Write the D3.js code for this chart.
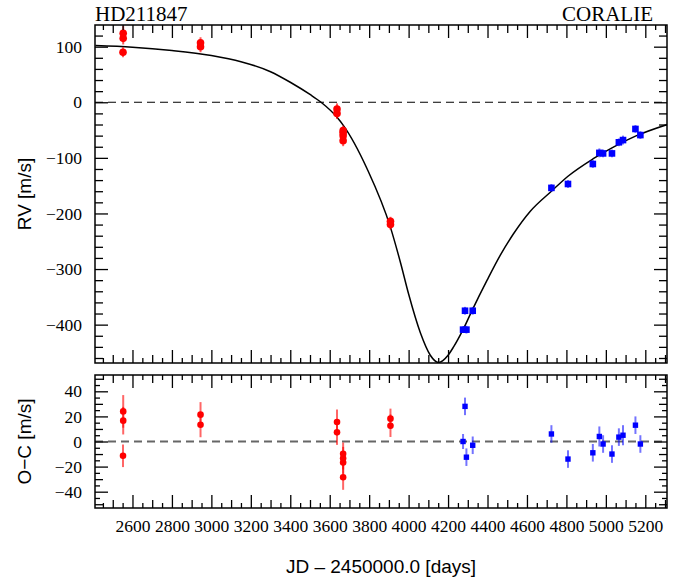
<!DOCTYPE html>
<html>
<head>
<meta charset="utf-8">
<script src="https://cdn.jsdelivr.net/npm/d3@7"></script>
<style>
  html, body { margin: 0; padding: 0; background: #fff; }
  svg { display: block; }
  .serif-labels text { font-family: 'Liberation Serif', 'Times New Roman', serif; }
</style>
</head>
<body>
<svg id="chart" width="692" height="581"></svg>
<script>
// ---- Data -------------------------------------------------------------
// Red points (first instrument epoch set): JD-2450000, RV [m/s], O-C [m/s], error [m/s]
const redDays = [2553, 2553, 2552, 2945, 2945, 3637, 3637, 3668, 3668, 3668, 3668, 3908, 3908];
const redRV   = [124, 115, 90, 107, 100, -12, -20, -51, -55, -60, -69, -214, -220];
const redOC   = [24, 16.6, -11.4, 21.4, 13.4, 15.5, 7.3, -9.8, -13.3, -16.8, -28.5, 18.2, 12.6];
const redErr  = [13, 11, 9, 10, 10, 10, 10, 9, 9, 9, 10, 8, 9];

// Blue points (second instrument)
const blueDays = [4276, 4286, 4293, 4325, 4724, 4808, 4934, 4967, 4986, 5031, 5066, 5087, 5150, 5175];
const blueRV   = [-409, -375, -409, -375, -154, -147, -111, -91, -92, -92, -72, -68, -48, -59];
const blueOC   = [0, 28, -12.5, -3, 6, -14, -9, 4, -2, -10, 3.5, 5, 13, -2];
const blueErr  = [6, 7, 7, 7, 7, 7, 7, 8, 7, 7, 7, 8, 7, 7];

// Orbital model curve
const modelDays = [2412, 2600, 2800, 3000, 3150, 3300, 3400, 3500, 3556, 3637, 3668, 3790, 3908, 3960, 4000, 4060, 4110, 4152, 4200, 4228, 4276, 4325, 4398, 4465, 4531, 4617, 4724, 4808, 4934, 5031, 5150, 5312];
const modelRV   = [102, 99, 93, 84, 73, 55, 36, 14, 0, -27, -41, -120, -225, -290, -345, -415, -455, -468, -455, -440, -409, -372, -320, -275, -237, -196, -160, -133, -102, -82, -61, -40];

// Tick values
const xLabelTicks = [2600, 2800, 3000, 3200, 3400, 3600, 3800, 4000, 4200, 4400, 4600, 4800, 5000, 5200];
const rvTicks = [100, 0, -100, -200, -300, -400];
const ocTicks = [40, 20, 0, -20, -40];

// ---- Layout -----------------------------------------------------------
const svg = d3.select("#chart");
const L = 95, R = 667;
const topY0 = 25, topY1 = 363;
const botY0 = 375, botY1 = 508;

const x = d3.scaleLinear().domain([2410, 5310]).range([L, R]);
const yTop = d3.scaleLinear().domain([-469, 139]).range([topY1, topY0]);
const yBot = d3.scaleLinear().domain([-53, 53]).range([botY1, botY0]);

const serif = "'Liberation Serif', 'Times New Roman', serif";
const sans = "'Liberation Sans', Arial, Helvetica, sans-serif";
const fmt = d => (d < 0 ? "\u2212" + Math.abs(d) : String(d));

svg.append("defs").append("clipPath").attr("id", "clipTop")
  .append("rect").attr("x", L).attr("y", topY0).attr("width", R - L).attr("height", topY1 - topY0);
svg.select("defs").append("clipPath").attr("id", "clipBot")
  .append("rect").attr("x", L).attr("y", botY0).attr("width", R - L).attr("height", botY1 - botY0);

// ---- Top panel: RV ------------------------------------------------------
const gTop = svg.append("g").attr("clip-path", "url(#clipTop)");

gTop.append("line")
  .attr("x1", L).attr("x2", R).attr("y1", yTop(0)).attr("y2", yTop(0))
  .attr("stroke", "#000").attr("stroke-width", 1.2).attr("stroke-dasharray", "8,5");

const line = d3.line().x(d => x(d[0])).y(d => yTop(d[1])).curve(d3.curveMonotoneX);
gTop.append("path")
  .datum(d3.zip(modelDays, modelRV))
  .attr("d", line)
  .attr("fill", "none").attr("stroke", "#000").attr("stroke-width", 1.5);

function drawErrBars(g, days, vals, errs, yS, color) {
  g.selectAll(null).data(d3.range(days.length)).join("line")
    .attr("x1", i => x(days[i])).attr("x2", i => x(days[i]))
    .attr("y1", i => yS(vals[i] - errs[i])).attr("y2", i => yS(vals[i] + errs[i]))
    .attr("stroke", color).attr("stroke-width", 2);
}

drawErrBars(gTop, redDays, redRV, redErr, yTop, "rgba(255,0,0,0.65)");
drawErrBars(gTop, blueDays, blueRV, blueErr, yTop, "rgba(0,0,255,0.55)");

gTop.selectAll(null).data(d3.range(redDays.length)).join("circle")
  .attr("cx", i => x(redDays[i])).attr("cy", i => yTop(redRV[i]))
  .attr("r", 3.8).attr("fill", "#ff0000");
gTop.selectAll(null).data(d3.range(blueDays.length)).join("rect")
  .attr("x", i => x(blueDays[i]) - 3.3).attr("y", i => yTop(blueRV[i]) - 3.3)
  .attr("width", 6.6).attr("height", 6.6).attr("fill", "#0000ff");

// ---- Bottom panel: O-C --------------------------------------------------
const gBot = svg.append("g").attr("clip-path", "url(#clipBot)");

gBot.append("line")
  .attr("x1", L).attr("x2", R).attr("y1", yBot(0)).attr("y2", yBot(0))
  .attr("stroke", "#666").attr("stroke-width", 1.8).attr("stroke-dasharray", "8,5");

drawErrBars(gBot, redDays, redOC, redErr, yBot, "rgba(255,0,0,0.6)");
drawErrBars(gBot, blueDays, blueOC, blueErr, yBot, "rgba(0,0,255,0.55)");

gBot.selectAll(null).data(d3.range(redDays.length)).join("circle")
  .attr("cx", i => x(redDays[i])).attr("cy", i => yBot(redOC[i]))
  .attr("r", 3.3).attr("fill", "#ff0000");
gBot.selectAll(null).data(d3.range(blueDays.length)).join("rect")
  .attr("x", i => x(blueDays[i]) - 2.7).attr("y", i => yBot(blueOC[i]) - 2.7)
  .attr("width", 5.4).attr("height", 5.4).attr("fill", "#0000ff");

// ---- Frames and ticks ---------------------------------------------------
function tickAxis(axisFn, scale, values, size, transform) {
  const g = svg.append("g").attr("transform", transform)
    .call(axisFn(scale).tickValues(values).tickSize(size).tickFormat(""));
  g.select(".domain").remove();
  g.selectAll(".tick line").attr("stroke", "#000").attr("stroke-width", 1.3);
  return g;
}

const xLong = d3.range(2400, 5320, 200).filter(v => v >= 2410 && v <= 5310);
const xMed = d3.range(2500, 5320, 200).filter(v => v >= 2410 && v <= 5310);
const xShort = d3.range(2450, 5320, 100).filter(v => v >= 2410 && v <= 5310);

function xTicks(y0, y1) {
  [[xLong, 13], [xMed, 8], [xShort, 5]].forEach(([vals, s]) => {
    tickAxis(d3.axisBottom, x, vals, -s, `translate(0,${y1})`);
    tickAxis(d3.axisTop, x, vals, -s, `translate(0,${y0})`);
  });
}
xTicks(topY0, topY1);
xTicks(botY0, botY1);

// y ticks, top panel
const rvMinor = d3.range(-460, 140, 20).filter(v => v % 100 !== 0);
[[rvTicks, 13], [rvMinor, 8]].forEach(([vals, s]) => {
  tickAxis(d3.axisLeft, yTop, vals, -s, `translate(${L},0)`);
  tickAxis(d3.axisRight, yTop, vals, -s, `translate(${R},0)`);
});
// y ticks, bottom panel
const ocMed = [-50, -30, -10, 10, 30, 50];
const ocShort = d3.range(-50, 55, 5).filter(v => v % 10 !== 0);
[[ocTicks, 13], [ocMed, 8], [ocShort, 5]].forEach(([vals, s]) => {
  tickAxis(d3.axisLeft, yBot, vals, -s, `translate(${L},0)`);
  tickAxis(d3.axisRight, yBot, vals, -s, `translate(${R},0)`);
});

// tick labels (serif)
function labelAxis(axisFn, scale, values, transform, pad) {
  const g = svg.append("g").attr("class", "serif-labels").attr("transform", transform)
    .call(axisFn(scale).tickValues(values).tickSize(0).tickPadding(pad).tickFormat(fmt));
  g.attr("font-family", serif).attr("font-size", 17.5);
  g.select(".domain").remove();
  g.selectAll("text")
    .style("font-family", serif).style("font-size", "17.5px").attr("fill", "#000");
}
labelAxis(d3.axisLeft, yTop, rvTicks, `translate(${L},0)`, 13);
labelAxis(d3.axisLeft, yBot, ocTicks, `translate(${L},0)`, 13);
labelAxis(d3.axisBottom, x, xLabelTicks, `translate(0,${botY1})`, 12);

[[topY0, topY1], [botY0, botY1]].forEach(([a, b]) => {
  svg.append("rect").attr("x", L).attr("y", a).attr("width", R - L).attr("height", b - a)
    .attr("fill", "none").attr("stroke", "#000").attr("stroke-width", 1.5);
});

// ---- Titles and axis labels -------------------------------------------
svg.append("text").attr("x", L).attr("y", 21)
  .style("font-family", serif).attr("font-size", 21).text("HD211847");
svg.append("text").attr("x", 653).attr("y", 21).attr("text-anchor", "end")
  .style("font-family", serif).attr("font-size", 21).text("CORALIE");

svg.append("text")
  .attr("transform", `translate(31,${(topY0 + topY1) / 2}) rotate(-90)`)
  .attr("text-anchor", "middle").style("font-family", sans).attr("font-size", 19)
  .text("RV [m/s]");
svg.append("text")
  .attr("transform", `translate(31,${(botY0 + botY1) / 2}) rotate(-90)`)
  .attr("text-anchor", "middle").style("font-family", sans).attr("font-size", 19)
  .text("O\u2212C [m/s]");
svg.append("text")
  .attr("x", (L + R) / 2).attr("y", 573)
  .attr("text-anchor", "middle").style("font-family", sans).attr("font-size", 19)
  .text("JD \u2013 2450000.0 [days]");
</script>
</body>
</html>
